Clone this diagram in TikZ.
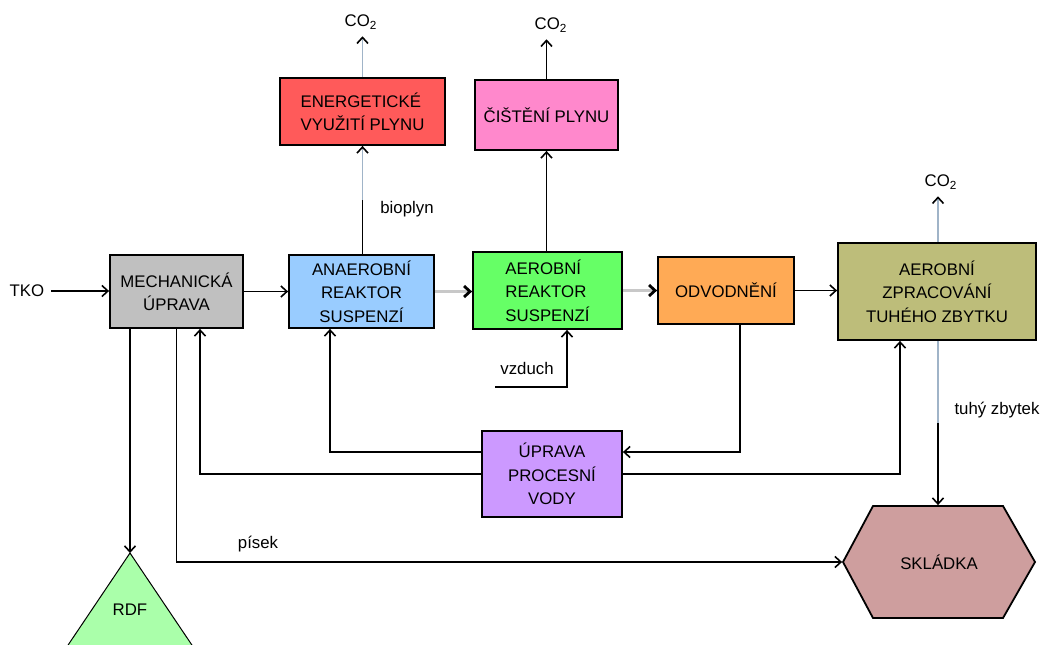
\documentclass[tikz,border=0pt]{standalone}
\usepackage{fontspec}
\setmainfont{Liberation Sans}
\usetikzlibrary{arrows.meta}
\usetikzlibrary{calc,positioning}

\definecolor{mechgray}{RGB}{192,192,192}
\definecolor{anaerblue}{RGB}{153,204,255}
\definecolor{aerobgreen}{RGB}{102,255,102}
\definecolor{odvodorange}{RGB}{255,170,85}
\definecolor{zpracolive}{RGB}{189,189,122}
\definecolor{energred}{RGB}{255,90,90}
\definecolor{cistpink}{RGB}{255,136,204}
\definecolor{vodapurple}{RGB}{204,153,255}
\definecolor{skladrose}{RGB}{206,158,158}
\definecolor{rdfgreen}{RGB}{170,255,170}
\definecolor{pipegray}{RGB}{200,200,200}
\definecolor{gasgray}{RGB}{160,180,200}

\begin{document}
\begin{tikzpicture}[>={Straight Barb[length=3pt,width=5.5pt,color=black]}, x=0.5pt, y=-0.5pt,
    box/.style={draw, line width=0.9pt, align=center, inner sep=0pt, font=\fontsize{8.4}{11.7}\selectfont},
    lbl/.style={font=\fontsize{8.4}{10}\selectfont},
    flow/.style={->, line width=0.8pt},
    pipe/.style={->, draw=pipegray, line width=1.4pt},
    gas/.style={->, draw=gasgray, line width=0.8pt}]

    \clip (0,0) rectangle (1049,644);

    \node[box, fill=mechgray, minimum width=66.5pt, minimum height=36.5pt] (mech) at (176.5,291.5) {MECHANICKÁ\\ÚPRAVA};
    \node[box, fill=anaerblue, minimum width=72.5pt, minimum height=36.5pt] (anaer) at (361.5,291.5) {ANAEROBNÍ\\REAKTOR\\SUSPENZÍ};
    \node[box, fill=aerobgreen, minimum width=74.5pt, minimum height=38.5pt, align=left] (aerob) at (547.5,290.5) {AEROBNÍ\\REAKTOR\\SUSPENZÍ};
    \node[box, fill=odvodorange, minimum width=68pt, minimum height=33.5pt] (odvod) at (726,290.5) {ODVODNĚNÍ};
    \node[box, fill=zpracolive, minimum width=99pt, minimum height=48.5pt] (zprac) at (937,291.5) {AEROBNÍ\\ZPRACOVÁNÍ\\TUHÉHO ZBYTKU};
    \node[box, fill=energred, minimum width=82.5pt, minimum height=33.5pt, align=left] (energ) at (362.5,111.5) {ENERGETICKÉ\\VYUŽITÍ PLYNU};
    \node[box, fill=cistpink, minimum width=71.5pt, minimum height=35pt] (cist) at (546.5,115) {ČIŠTĚNÍ PLYNU};
    \node[box, fill=vodapurple, minimum width=70pt, minimum height=43pt] (voda) at (552,474) {ÚPRAVA\\PROCESNÍ\\VODY};

    \draw[fill=skladrose, line width=0.9pt] (843,562) -- (873,506) -- (1003,506) -- (1035,562) -- (1003,618) -- (873,618) -- cycle;
    \node[box, draw=none, minimum width=96pt, minimum height=56pt] (sklad) at (939,562) {SKLÁDKA};

    \draw[fill=rdfgreen, line width=0.5pt] (130,553) coordinate (rdftop) -- (58,660) -- (202,660) -- cycle;
    \node[lbl] (rdf) at (130,610) {RDF};

    \node[lbl] (tko) at (27,291) {TKO};
    \node[lbl] (co2a) at (361,22) {CO\textsubscript{2}};
    \node[lbl] (co2b) at (551,25) {CO\textsubscript{2}};
    \node[lbl] (co2c) at (941,182) {CO\textsubscript{2}};
    \node[lbl] (bioplyn) at (407,209) {bioplyn};
    \node[lbl] (vzduch) at (527,368) {vzduch};
    \node[lbl] (pisek) at (258,544) {písek};
    \node[lbl] (tuhy) at (997,410) {tuhý zbytek};

    \coordinate (bio) at (362.5,200);
    \coordinate (rest) at (938,423);
    \coordinate (airin) at (495,387);

    \draw[flow] (tko.east) -- (tko.east -| mech.west);
    \draw[flow] (mech) -- (anaer);
    \draw[pipe] (anaer.east) -- (anaer.east -| aerob.west);
    \draw[pipe] (aerob.east) -- (aerob.east -| odvod.west);
    \draw[flow] (odvod.east) -- (odvod.east -| zprac.west);

    \draw[line width=0.8pt] (anaer.north -| bio) -- (bio);
    \draw[gas] (bio) -- (energ.south);
    \draw[gas] (energ.north) -- (energ.north |- co2a.south);
    \draw[flow] (aerob.north -| cist.south) -- (cist.south);
    \draw[flow] (cist.north) -- (cist.north |- co2b.south);
    \draw[gas] (zprac.north -| rest) -- (rest |- co2c.south);
    \draw[gas, -] (zprac.south -| rest) -- (rest);
    \draw[flow] (rest) -- (sklad.north -| rest);

    \draw[flow] (airin) -| ($(aerob.south)+(19.5,0)$);
    \draw[flow] ($(odvod.south)+(14,0)$) |- ($(voda.east)+(0,-22)$);
    \draw[flow] ($(voda.west)+(0,-22)$) -| ($(anaer.south)+(-31.5,0)$);
    \draw[flow] (voda.west) -| ($(mech.south)+(23.5,0)$);
    \draw[flow] (voda.east) -| ($(zprac.south)+(-37,0)$);
    \draw[flow] ($(mech.south)+(-46.5,0)$) -- (rdftop);
    \draw[flow] (mech.south) |- (sklad.west);

\end{tikzpicture}
\end{document}
